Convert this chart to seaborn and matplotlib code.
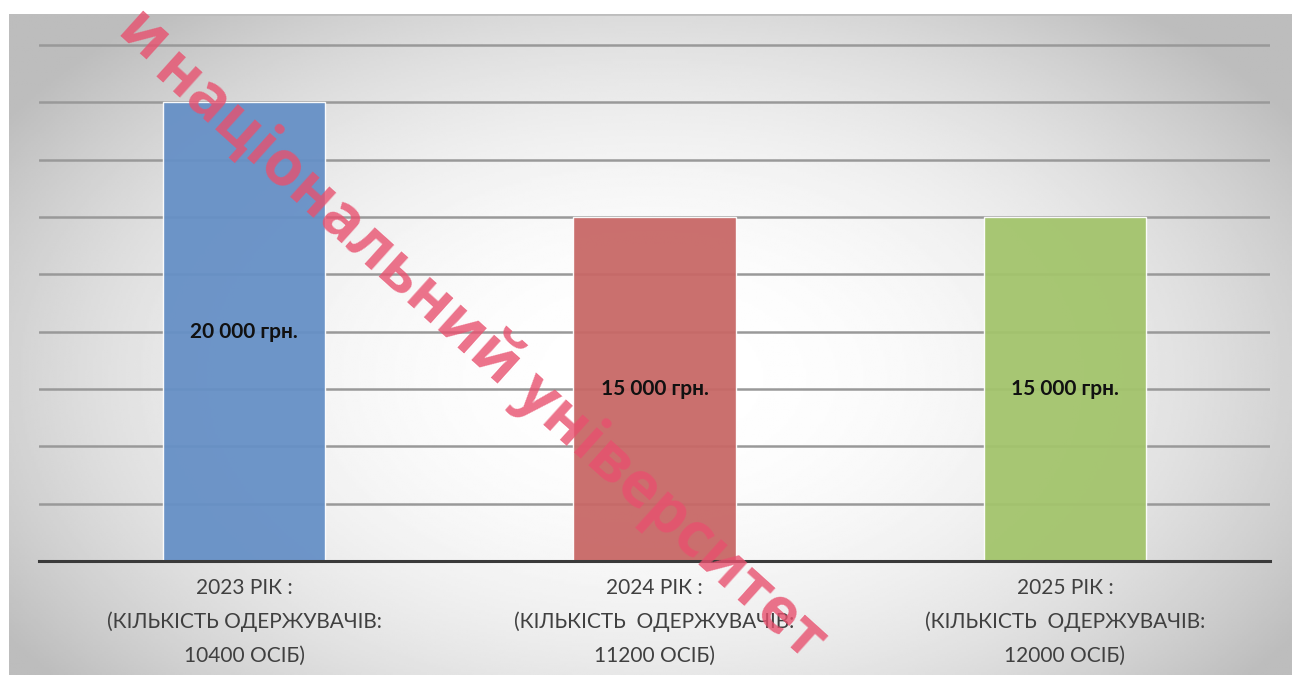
import numpy as np
import pandas as pd
import seaborn as sns
import matplotlib.pyplot as plt

sns.set_theme(style="white")
plt.rcParams['font.family'] = ['Lato', 'DejaVu Sans']

categories = ["2023 РІК :\n(КІЛЬКІСТЬ ОДЕРЖУВАЧІВ:\n10400 ОСІБ)",
              "2024 РІК :\n(КІЛЬКІСТЬ  ОДЕРЖУВАЧІВ:\n11200 ОСІБ)",
              "2025 РІК :\n(КІЛЬКІСТЬ  ОДЕРЖУВАЧІВ:\n12000 ОСІБ)"]
values = [20000, 15000, 15000]
bar_labels = ["20 000 грн.", "15 000 грн.", "15 000 грн."]
colors = ["#6690C6", "#C86866", "#A3C46C"]
watermark_head = "и"
watermark = "національний університет"

df = pd.DataFrame({"cat": categories, "val": values})

fig = plt.figure(figsize=(12.92, 6.75), dpi=100)
fig.patch.set_facecolor("white")

# radial grey-to-white background of the chart area
bg = fig.add_axes([9/1292, 0, 1 - 9/1292, 1 - 14/675], zorder=0)
yy, xx = np.mgrid[0:1:300j, 0:1:600j]
r = np.sqrt(((xx - 0.5) / 0.62) ** 2 + ((yy - 0.55) / 0.75) ** 2)
shade = np.clip(1 - 0.28 * r ** 2.2, 0.74, 1.0)
bg.imshow(shade, cmap="gray", vmin=0, vmax=1, aspect="auto", extent=[0, 1, 0, 1])
bg.axhline(1, color="#BDBDBD", lw=2)
bg.set_axis_off()

ax = fig.add_axes([39/1292, 1 - 561/675, (1270 - 39)/1292, (561 - 42.7)/675], zorder=1)
ax.patch.set_alpha(0)

sns.barplot(data=df, x="cat", y="val", hue="cat", palette=colors, width=0.395,
            legend=False, ax=ax, saturation=1, alpha=0.95, zorder=3,
            edgecolor="#FFFFFF55", linewidth=1)

for i, (v, t) in enumerate(zip(values, bar_labels)):
    ax.text(i, v / 2, t, ha="center", va="center", fontsize=15,
            fontweight="bold", color="#111111", zorder=5)

ax.set_ylim(0, 22600)
ax.set_xlim(-0.5, 2.5)
ax.set_yticks(np.arange(2500, 22501, 2500))
ax.yaxis.grid(True, color="#999999", lw=1.8, zorder=1)
ax.set_axisbelow(True)
ax.set_yticklabels([])
ax.tick_params(axis="y", length=0)
ax.tick_params(axis="x", length=0, pad=12, labelsize=15, labelcolor="#404040")
for lab in ax.get_xticklabels():
    lab.set_linespacing(1.85)
ax.set_xlabel("")
ax.set_ylabel("")
for s in ["top", "left", "right"]:
    ax.spines[s].set_visible(False)
ax.spines["bottom"].set_color("#3A3A3A")
ax.spines["bottom"].set_linewidth(2.2)
ax.spines["bottom"].set_zorder(4)

wm = dict(rotation=-42, rotation_mode="anchor", ha="center", va="center",
          fontsize=45, fontweight="bold", family=["Open Sans", "DejaVu Sans"],
          color="#E8506E", alpha=0.8, zorder=10)
fig.text(142/1292, 1 - 38/675, watermark_head, **wm)
fig.text(490/1292, 1 - 355/675, watermark, **wm)

fig.savefig("out.png", dpi=100)
